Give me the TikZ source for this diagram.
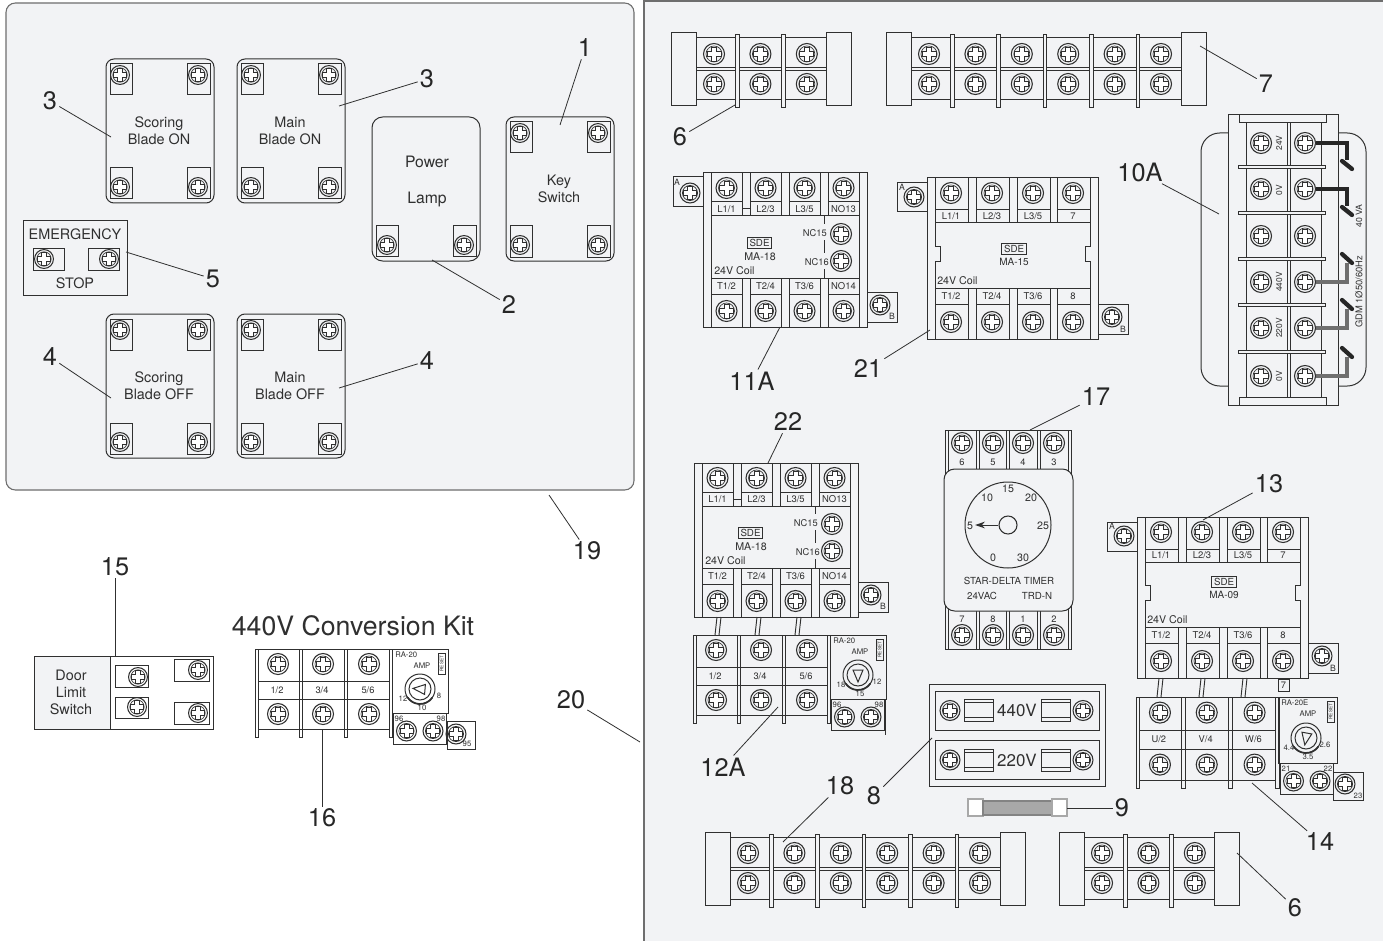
\documentclass[tikz,border=0pt]{standalone}
\usepackage{fontspec}
\setmainfont{TeX Gyre Heros}
\usetikzlibrary{arrows.meta}
\definecolor{panelgray}{HTML}{F2F3F5}
\definecolor{inkgray}{HTML}{303030}
\definecolor{leadgray}{HTML}{6E6E6E}
\tikzset{
  part/.style={draw=inkgray,line width=.75pt},
  leader/.style={draw=inkgray,line width=.6pt},
  lbl/.style={inner sep=0pt,text=inkgray},
  fs/.style={font=\fontsize{#1}{12.8}\selectfont},
  partno/.style={inner sep=1.5pt,text=black!85,font=\fontsize{19}{19}\selectfont},
  sdebox/.style={lbl,fs=7.3,draw=inkgray,line width=.7pt,inner xsep=1.8pt,inner ysep=1.2pt},
  screw/.pic={
    \draw[draw=inkgray,line width=.8pt] (0,0) circle (10.5);
    \draw[draw=inkgray,line width=.5pt] (0,0) circle (8);
    \draw[draw=inkgray,line width=.5pt,fill=white] (-2.6,-7) -- (2.6,-7) -- (2.6,-2.6) -- (7,-2.6) -- (7,2.6) -- (2.6,2.6) -- (2.6,7) -- (-2.6,7) -- (-2.6,2.6) -- (-7,2.6) -- (-7,-2.6) -- (-2.6,-2.6) -- cycle;
  }
}
\newcommand\callout[4]{
  \node[partno] (#1) at (#2) {#3};
  \coordinate (#1end) at (#4);
  \draw[leader] (#1) -- (#1end);
}
\newcommand\screwtab[6]{
  \draw[part] (#1,#2) rectangle (#3,#4);
  \pic[scale=.9] at (#5,#6) {screw};
}
\newcommand\switchbox[4]{
  \begin{scope}[shift={(#2,#3)}]
    \draw[part,rounded corners=6pt] (0,0) rectangle (108,144);
    \screwtab{4}{5}{26}{36}{14}{16}
    \screwtab{81}{5}{104}{36}{92}{16}
    \screwtab{4}{109}{26}{140}{14}{128}
    \screwtab{81}{109}{104}{140}{92}{128}
    \node[lbl,fs=10.8,align=center] (#1) at (53,71.5) {#4};
  \end{scope}
}
\newcommand\termstrip[3]{
  \begin{scope}[shift={(#1,#2)}]
    \pgfmathsetmacro\stripend{43+(#3-1)*46.4+20}
    \draw[part] (25,5) -- (\stripend,5) (25,35) -- (\stripend,35) (25,38) -- (\stripend,38) (25,67) -- (\stripend,67);
    \draw[part,fill=panelgray] (0,0) rectangle (25,73);
    \draw[part,fill=panelgray] (\stripend,0) rectangle (\stripend+25,73);
    \foreach \k in {1,...,#3} {
      \pgfmathsetmacro\sx{43+(\k-1)*46.4}
      \pic at (\sx,21) {screw};
      \pic at (\sx,51) {screw};
      \ifnum\k<#3
        \draw[part,fill=panelgray] (\sx+21.5,2) rectangle (\sx+25,75);
      \fi
    }
  \end{scope}
}
\newcommand\narrowcontactor[3]{
  \begin{scope}[shift={(#2,#3)}]
    \draw[part] (0,0) rectangle (164,154);
    \draw[part] (8,0) -- (8,154) (156,0) -- (156,154);
    \draw[part] (8,43) -- (156,43) (8,105) -- (156,105);
    \draw[part] (39,36) -- (47,36);
    \foreach \cx/\toplab/\botlab in {8/{L1/1}/{T1/2},47/{L2/3}/{T2/4},86/{L3/5}/{T3/6},125/{NO13}/{NO14}} {
      \draw[part] (\cx,0) -- (\cx,43) (\cx+31,0) -- (\cx+31,43) (\cx,29) -- (\cx+31,29);
      \draw[part] (\cx,105) -- (\cx,154) (\cx+31,105) -- (\cx+31,154) (\cx,121) -- (\cx+31,121);
      \pic at (\cx+15.5,15) {screw};
      \pic at (\cx+15.5,138) {screw};
      \node[lbl,fs=7.1] (#1t\cx) at (\cx+15.5,36.5) {\toplab};
      \node[lbl,fs=7.1] (#1b\cx) at (\cx+15.5,113) {\botlab};
    }
    \draw[part] (121,43) -- (121,51) (121,67) -- (121,80) (121,96) -- (121,105);
    \pic at (138,61) {screw};
    \pic at (138,88) {screw};
    \node[lbl,fs=7,anchor=east] (#1nc15) at (124,60) {NC15};
    \node[lbl,fs=7,anchor=east] (#1nc16) at (126,89) {NC16};
    \node[sdebox] (#1sde) at (56.5,70) {SDE};
    \node[lbl,fs=8] (#1model) at (57,84) {MA-18};
    \node[lbl,fs=8,anchor=west] (#1coil) at (11,98) {24V Coil};
    \draw[part] (164,119) rectangle (194,149);
    \pic[scale=.95] at (177,132) {screw};
    \node[lbl,fs=6.5] (#1btab) at (189,143) {B};
  \end{scope}
}
\newcommand\widecontactor[5]{
  \begin{scope}[shift={(#2,#3)}]
    \draw[part] (0,0) rectangle (171,161);
    \draw[part] (8,0) -- (8,68) -- (13,68) -- (13,83) -- (8,83) -- (8,161);
    \draw[part] (163,0) -- (163,68) -- (158,68) -- (158,83) -- (163,83) -- (163,161);
    \draw[part] (8,45) -- (163,45) (8,110) -- (163,110);
    \foreach \cx/\toplab/\botlab in {8/{L1/1}/{T1/2},49/{L2/3}/{T2/4},90/{L3/5}/{T3/6},130/{7}/{8}} {
      \draw[part] (\cx,0) -- (\cx,45) (\cx+33,0) -- (\cx+33,45) (\cx,32) -- (\cx+33,32);
      \draw[part] (\cx,110) -- (\cx,161) (\cx+33,110) -- (\cx+33,161) (\cx,126) -- (\cx+33,126);
      \pic at (\cx+16,15) {screw};
      \pic at (\cx+16,144) {screw};
      \node[lbl,fs=7.1] (#1t\cx) at (\cx+16,38.5) {\toplab};
      \node[lbl,fs=7.1] (#1b\cx) at (\cx+16,118) {\botlab};
    }
    \node[sdebox] (#1sde) at (87,#5-13) {SDE};
    \node[lbl,fs=7.5] (#1model) at (87,#5) {#4};
    \node[lbl,fs=8,anchor=west] (#1coil) at (10,103) {24V Coil};
    \draw[part] (-30,5) rectangle (0,34);
    \pic[scale=.95] at (-13,19) {screw};
    \node[lbl,fs=6.5] (#1atab) at (-25,9) {A};
    \draw[part] (171,126) rectangle (201,156);
    \pic[scale=.95] at (185,139) {screw};
    \node[lbl,fs=6.5] (#1btab) at (196,151) {B};
  \end{scope}
}
\newcommand\overloadblock[7]{
  \begin{scope}[shift={(#2,#3)},scale=#4]
    \draw[part] (0,0) -- (137,0);
    \draw[part] (4,32) -- (134,32) (4,50) -- (134,50) (4,80) -- (134,80);
    \foreach \px in {0,44,89,134} {
      \draw[part] (\px,0) rectangle (\px+3.5,88);
    }
    \foreach \sx/\tlab in {23/{#5},68/{#6},114/{#7}} {
      \pic at (\sx,15) {screw};
      \pic at (\sx,65) {screw};
      \node[lbl,fs=7] (#1\sx) at (\sx-1,41) {\tlab};
    }
  \end{scope}
}
\newcommand\relaybody[6]{
  \begin{scope}[shift={(#2,#3)}]
    \draw[part] (0,0) rectangle (#4,#5);
    \node[lbl,fs=5.8,anchor=west] (#1type) at (3,5.5) {#6};
    \draw[part,line width=.6pt] (#4-10,4) rectangle (#4-3,25);
    \node[lbl,rotate=90,font=\fontsize{3.6}{4}\selectfont] (#1reset) at (#4-6.5,14.5) {RESET};
    \node[lbl,fs=5.8] (#1amp) at (30,17) {AMP};
  \end{scope}
}
\newcommand\relaydial[7]{
  \begin{scope}[shift={(#2,#3)}]
    \draw[part] (0,0) circle (15);
    \draw[part] (0,0) circle (11);
    \draw[part,line width=1.3pt] (35:15) arc (35:145:15);
    \draw[part,rotate=#4] (7,0) -- (-5,-5) -- (-5,5) -- cycle;
    \node[lbl,fs=5.8] (#1dla) at (-17,10) {#5};
    \node[lbl,fs=5.8] (#1dlb) at (19,7) {#6};
    \node[lbl,fs=5.8] (#1dlc) at (2,19) {#7};
  \end{scope}
}
\newcommand\relayaux[5]{
  \begin{scope}[shift={(#2,#3)}]
    \draw[part] (0,0) rectangle (53,31);
    \pic[scale=.95] at (13.5,18) {screw};
    \pic[scale=.95] at (40,18) {screw};
    \node[lbl,fs=5.8] (#1la) at (6,6) {#4};
    \node[lbl,fs=5.8] (#1lb) at (48,6) {#5};
  \end{scope}
}
\newcommand\fuseholder[2]{
  \draw[part] (#1,#2-11) rectangle (#1+29,#2+11);
  \draw[part,line width=.5pt] (#1,#2-8) -- (#1+29,#2-8) (#1,#2+7) -- (#1+29,#2+7);
}
\newcommand\fuserow[3]{
  \draw[part] (935,#2-19.5) rectangle (1099,#2+19.5);
  \pic[scale=.95] at (950,#2) {screw};
  \pic[scale=.95] at (1083,#2) {screw};
  \fuseholder{964}{#2}
  \fuseholder{1041}{#2}
  \node[lbl,fs=12.7] (#1) at (1017,#2) {#3};
}
\begin{document}
\begin{tikzpicture}[x=0.75pt,y=-0.75pt]
  \path[use as bounding box,fill=white] (0,0) rectangle (1383,941);
  \fill[panelgray] (644,1) rectangle (1383,941);
  \draw[draw=inkgray!70,line width=.8pt] (644,941) -- (644,1) -- (1383,1);
  \draw[draw=inkgray!70,line width=.8pt,fill=panelgray,rounded corners=7pt] (6,3) rectangle (634,490);

  \switchbox{scoreon}{106}{59}{Scoring\\Blade ON}
  \switchbox{mainon}{237}{59}{Main\\Blade ON}
  \switchbox{scoreoff}{106}{314}{Scoring\\Blade OFF}
  \switchbox{mainoff}{237}{314}{Main\\Blade OFF}
  \switchbox{keysw}{506}{117}{Key\\Switch}

  \draw[part,rounded corners=8pt] (372,117) rectangle (480,261);
  \screwtab{376}{226}{398}{256}{387}{245}
  \screwtab{453}{226}{476}{256}{464}{245}
  \node[lbl,fs=11.8,align=center] (lamp) at (427,181.5) {Power\\[13.5pt]Lamp};

  \draw[part] (23.5,221) rectangle (127,295);
  \draw[part] (33,248) rectangle (64,270);
  \draw[part] (88,248) rectangle (119,270);
  \pic[scale=.9] at (44,259) {screw};
  \pic[scale=.9] at (109,259) {screw};
  \node[lbl,fs=10.8] (emerg) at (75,234) {EMERGENCY};
  \node[lbl,fs=10.8] (estop) at (75,283) {STOP};

  \draw[part,fill=panelgray] (34,656) rectangle (110,729);
  \draw[part] (110,656) -- (213,656) -- (213,729) -- (110,729);
  \screwtab{115}{665}{148}{687}{138}{677}
  \screwtab{174}{659}{209}{681}{198}{670}
  \screwtab{115}{697}{148}{718}{137}{707}
  \screwtab{174}{702}{209}{724}{198}{713}
  \node[lbl,fs=10.8,align=center] (doorsw) at (71,692) {Door\\Limit\\Switch};

  \node[lbl,fs=20] (kittitle) at (353,626) {440V Conversion Kit};
  \overloadblock{kit}{255}{649}{1}{1/2}{3/4}{5/6}
  \relaybody{kitrelay}{392}{649}{56}{64}{RA-20}
  \relaydial{kitdial}{420}{689}{175}{12}{8}{10}
  \relayaux{kitaux}{393}{713}{96}{98}
  \draw[part] (447,721) rectangle (475,749);
  \pic[scale=.95] at (456,734) {screw};
  \node[lbl,fs=5.8] (kit95) at (467,744) {95};

  \termstrip{671}{33}{3}
  \termstrip{886}{33}{6}
  \termstrip{705}{832}{6}
  \termstrip{1059}{832}{3}

  \narrowcontactor{ctra}{703}{173}
  \draw[part] (673,177) rectangle (703,207);
  \pic[scale=.95] at (690,193) {screw};
  \node[lbl,fs=6.5] (ctraatab) at (677,182) {A};
  \narrowcontactor{ctrb}{694}{463}
  \widecontactor{ctrc}{927}{178}{MA-15}{84}
  \widecontactor{ctrd}{1137}{517}{MA-09}{78}
  \draw[part] (1278,679) rectangle (1289,691);
  \node[lbl,fs=7] (ctrdseven) at (1283.5,685) {7};

  \foreach \wx in {715,755,795} {
    \draw[part,line width=.7pt] (\wx+2,617) -- (\wx,635) (\wx+6,617) -- (\wx+4,635);
  }
  \overloadblock{olb}{693}{635}{1}{1/2}{3/4}{5/6}
  \relaybody{olbrelay}{830}{635}{56}{64}{RA-20}
  \relaydial{olbdial}{858}{675}{-90}{18}{12}{15}
  \relayaux{olbaux}{831}{699}{96}{98}
  \draw[part] (885,699) -- (885,735);

  \foreach \wx in {1157,1199,1241} {
    \draw[part,line width=.7pt] (\wx+2,678) -- (\wx,697) (\wx+6,678) -- (\wx+4,697);
  }
  \overloadblock{olc}{1136}{697}{1.04}{U/2}{V/4}{W/6}
  \relaybody{olcrelay}{1278}{697}{59}{66}{RA-20E}
  \relaydial{olcdial}{1306}{738}{-100}{4.4}{2.6}{3.5}
  \relayaux{olcaux}{1280}{763}{21}{22}
  \draw[part] (1333,772) rectangle (1363,800);
  \pic[scale=.95] at (1345,784) {screw};
  \node[lbl,fs=5.8] (olc23) at (1358,796) {23};

  \draw[part] (945,430) -- (1072,430) (945,649) -- (1072,649);
  \foreach \px in {945,976,1006,1037,1068} {
    \draw[part] (\px,430) rectangle (\px+3.5,649);
  }
  \foreach \sx/\tlab/\blab in {962/6/7,993/5/8,1023/4/1,1054/3/2} {
    \pic at (\sx,443) {screw};
    \pic at (\sx,635) {screw};
    \node[lbl,fs=7] (timert\sx) at (\sx,462) {\tlab};
    \node[lbl,fs=7] (timerb\sx) at (\sx,619) {\blab};
  }
  \draw[part,fill=panelgray,rounded corners=8pt] (944,469) rectangle (1073,611);
  \draw[part] (1008,525) circle (43);
  \node[lbl,fs=8] (timer15) at (1008,489) {15};
  \node[lbl,fs=8] (timer10) at (987,498) {10};
  \node[lbl,fs=8] (timer20) at (1031,498) {20};
  \node[lbl,fs=8] (timer5) at (970,526) {5};
  \node[lbl,fs=8] (timer25) at (1043,526) {25};
  \node[lbl,fs=8] (timer0) at (993,558) {0};
  \node[lbl,fs=8] (timer30) at (1023,558) {30};
  \node[draw=inkgray,line width=.8pt,circle,fill=panelgray,minimum size=13.5pt,inner sep=0pt] (timerhub) at (1008,525) {};
  \coordinate (timertip) at (975,525);
  \draw[part,-{Stealth[length=7.5pt,width=5pt]}] (timerhub) -- (timertip);
  \node[lbl,fs=7.3] (timername) at (1009,581) {STAR-DELTA TIMER};
  \node[lbl,fs=7.3] (timervac) at (982,596) {24VAC};
  \node[lbl,fs=7.3] (timertrd) at (1037,596) {TRD-N};

  \draw[part,rounded corners=14pt] (1228,133) -- (1201,133) -- (1201,386) -- (1228,386);
  \draw[part,rounded corners=14pt] (1338,133) -- (1366,133) -- (1366,386) -- (1338,386);
  \draw[part] (1228,115) rectangle (1338,405);
  \draw[part] (1239,115) rectangle (1326,123);
  \draw[part] (1239,397) rectangle (1326,405);
  \draw[part] (1246,123) -- (1246,397) (1321,123) -- (1321,397) (1287,123) -- (1287,397) (1290,123) -- (1290,397);
  \foreach \fy in {167,213,259,305,352} {
    \draw[part,fill=panelgray] (1238,\fy-1.5) rectangle (1325,\fy+1.5);
  }
  \foreach \ly in {143,189} {
    \draw[line width=3pt,draw=black!85] (1316,\ly) -- (1347,\ly) -- (1347,\ly+17);
    \draw[line width=3.2pt,draw=black!85,line cap=round] (1342,\ly+18) -- (1352,\ly+26);
  }
  \foreach \ly in {282,328,376} {
    \draw[line width=3pt,draw=leadgray] (1316,\ly) -- (1347,\ly) -- (1347,\ly-19);
    \draw[line width=3.2pt,draw=black!85,line cap=round] (1342,\ly-28) -- (1352,\ly-19);
  }
  \foreach \sy in {143,189,236,282,328,376} {
    \pic at (1261,\sy) {screw};
    \pic at (1305,\sy) {screw};
  }
  \foreach \vy/\vlab in {143/24V,190/0V,282/440V,328/220V,376/0V} {
    \node[lbl,fs=6.3,rotate=90] (tr\vy) at (1279,\vy) {\vlab};
  }
  \node[lbl,fs=6.5,rotate=90] (trva) at (1359,216) {40 VA};
  \node[lbl,fs=7,rotate=90] (trgdm) at (1359,292) {GDM 1Ø50/60Hz};

  \draw[part] (929,684) rectangle (1105,786);
  \fuserow{fuse440}{710.5}{440V}
  \fuserow{fuse220}{760}{220V}

  \draw[draw=leadgray!60,line width=1.4pt,fill=white] (968,799) rectangle (983,816);
  \draw[draw=inkgray!60,line width=.8pt,fill=leadgray!60] (983,801) rectangle (1052,815);
  \draw[draw=leadgray!60,line width=1.4pt,fill=white] (1052,799) rectangle (1067,816);

  \callout{pa}{585,48}{1}{560,125}
  \callout{pb}{427,79}{3}{339,106}
  \callout{pc}{50,101}{3}{111,137}
  \callout{pd}{213,279}{5}{126,252}
  \callout{pe}{509,305}{2}{432,260}
  \callout{pf}{50,357}{4}{111,398}
  \callout{pg}{427,361}{4}{339,388}
  \callout{ph}{587,551}{19}{549,495}
  \callout{pi}{571,700}{20}{640,742}
  \callout{pj}{680,137}{6}{735,105}
  \callout{pk}{1266,84}{7}{1200,46}
  \callout{pl}{1140,172}{10A}{1219,214}
  \callout{pm}{752,381}{11A}{780,327}
  \callout{pn}{868,369}{21}{930,330}
  \callout{po}{788,422}{22}{768,463}
  \callout{pp}{1096,397}{17}{1030,430}
  \callout{pq}{1269,484}{13}{1203,520}
  \callout{pr}{723,767}{12A}{778,707}
  \callout{ps}{874,796}{8}{932,738}
  \callout{pt}{840,786}{18}{783,842}
  \callout{pu}{1320,842}{14}{1252,783}
  \callout{pv}{1295,908}{6}{1237,853}
  \callout{pw}{1122,808}{9}{1067,808}
  \callout{px}{115,567}{15}{115,656}
  \callout{py}{322,818}{16}{322,730}
\end{tikzpicture}
\end{document}
